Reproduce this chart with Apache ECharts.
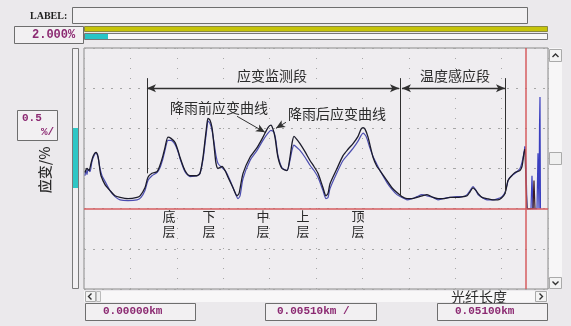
<!DOCTYPE html>
<html>
<head>
<meta charset="utf-8">
<script src="https://cdn.jsdelivr.net/npm/echarts@6/dist/echarts.min.js"></script>
<style>
  html, body { margin: 0; padding: 0; background: #ebe9ec; }
  #chart { width: 571px; height: 326px; }
</style>
</head>
<body>
<div id="chart"></div>
<script>
// Fibre distance in metres (0 – 51 m shown), strain in %.
// Strain after rainfall [distance, strain]
const afterRain = [
  [0.11,0.45],[0.33,0.50],[0.55,0.475],[0.77,0.5625],[0.99,0.65],[1.32,0.70],[1.54,0.65],[1.76,0.475],
  [1.87,0.41],[2.31,0.30],[2.86,0.225],[3.41,0.16],[3.96,0.14],[4.84,0.125],[5.83,0.14],[6.16,0.16],
  [6.70,0.26],[7.03,0.39],[7.47,0.44],[8.02,0.46],[8.35,0.54],[8.68,0.66],[8.90,0.76],[9.23,0.89],
  [9.56,0.875],[10.00,0.825],[10.33,0.725],[10.55,0.64],[11.10,0.475],[11.65,0.41],[12.42,0.41],[12.75,0.44],
  [13.08,0.64],[13.30,0.85],[13.52,1.06],[13.63,1.125],[13.85,1.10],[14.07,1.01],[14.29,0.79],[14.51,0.5625],
  [14.73,0.50],[15.17,0.525],[15.50,0.475],[15.83,0.39],[16.38,0.26],[16.82,0.16],[17.04,0.19],[17.48,0.44],
  [18.25,0.64],[19.02,0.76],[19.67,0.89],[20.22,1.01],[20.55,1.04],[20.77,0.99],[20.99,0.89],[21.32,0.64],
  [21.76,0.50],[22.31,0.475],[22.64,0.64],[22.86,0.81],[23.08,0.90],[23.41,0.86],[23.74,0.81],[24.29,0.71],
  [24.84,0.60],[25.28,0.525],[25.72,0.44],[26.27,0.26],[26.60,0.16],[26.82,0.19],[27.04,0.31],[27.81,0.50],
  [28.47,0.66],[29.02,0.74],[29.57,0.81],[30.12,0.90],[30.45,0.99],[30.67,1.01],[30.89,0.99],[31.22,0.89],
  [31.77,0.64],[32.20,0.525],[32.53,0.475],[33.30,0.35],[33.85,0.26],[34.40,0.20],[34.95,0.15],[35.50,0.125],
  [36.05,0.125],[36.60,0.14],[37.15,0.16],[37.70,0.175],[38.36,0.14],[38.91,0.125],[39.46,0.125],[40.23,0.14],
  [41.00,0.14],[41.66,0.15],[42.10,0.16],[42.43,0.21],[42.76,0.26],[43.09,0.225],[43.31,0.19],[43.75,0.14],
  [44.29,0.125],[44.95,0.11],[45.50,0.11],[45.94,0.14],[46.27,0.19],[46.49,0.29],[46.60,0.35],[46.93,0.40],
  [47.37,0.45],[47.92,0.475],[48.14,0.525],[48.25,0.60],[48.36,0.69],[48.47,0.74]
];
// Fibre end reflections, after rainfall
const afterRainTail = [
  [48.47,0.74],[48.58,0.31],[48.69,0],[49.35,0],[49.46,0.35],[49.57,0]
];

// Strain before rainfall [distance, strain]
const beforeRain = [
  [0.11,0.41],[0.22,0.475],[0.33,0.425],[0.44,0.49],[0.66,0.46],[0.88,0.59],[1.10,0.66],[1.32,0.69],
  [1.54,0.64],[1.76,0.50],[1.98,0.41],[2.31,0.34],[2.86,0.225],[3.41,0.15],[3.96,0.11],[4.84,0.10],
  [5.83,0.11],[6.27,0.14],[6.70,0.225],[7.03,0.35],[7.47,0.41],[8.02,0.45],[8.35,0.51],[8.68,0.625],
  [8.90,0.725],[9.23,0.85],[9.56,0.85],[10.00,0.80],[10.33,0.71],[10.55,0.625],[11.10,0.46],[11.65,0.40],
  [12.42,0.41],[12.75,0.44],[13.08,0.61],[13.30,0.81],[13.52,1.01],[13.63,1.09],[13.85,1.06],[14.07,0.975],
  [14.29,0.825],[14.51,0.66],[14.73,0.5625],[15.17,0.51],[15.61,0.46],[16.06,0.35],[16.60,0.20],[16.93,0.125],
  [17.15,0.16],[17.48,0.375],[18.25,0.60],[19.02,0.725],[19.67,0.85],[20.22,0.94],[20.55,0.975],[20.88,0.95],
  [21.10,0.84],[21.32,0.66],[21.76,0.51],[22.31,0.475],[22.64,0.60],[22.86,0.725],[23.08,0.79],[23.41,0.76],
  [23.74,0.725],[24.29,0.64],[24.84,0.54],[25.28,0.475],[25.72,0.39],[26.27,0.225],[26.60,0.125],[26.82,0.14],
  [27.04,0.25],[27.81,0.45],[28.47,0.60],[29.02,0.675],[29.57,0.75],[30.12,0.84],[30.45,0.91],[30.67,0.94],
  [31.00,0.90],[31.44,0.75],[31.77,0.65],[32.20,0.55],[32.53,0.475],[33.30,0.325],[33.85,0.24],[34.40,0.175],
  [34.95,0.14],[35.50,0.11],[36.05,0.125],[36.60,0.15],[37.15,0.175],[37.70,0.16],[38.36,0.14],[38.91,0.11],
  [39.46,0.125],[40.23,0.14],[41.00,0.15],[41.66,0.15],[42.10,0.175],[42.43,0.225],[42.76,0.275],[43.09,0.225],
  [43.31,0.175],[43.75,0.14],[44.29,0.11],[44.95,0.11],[45.50,0.125],[45.94,0.15],[46.27,0.20],[46.49,0.30],
  [46.71,0.375],[47.04,0.41],[47.48,0.45],[47.92,0.50],[48.14,0.575],[48.36,0.70],[48.47,0.775]
];
// Fibre end reflections, before rainfall
const beforeRainTail = [
  [48.47,0.775],[48.58,0.54],[48.69,0],[49.13,0],[49.24,0.41],[49.35,0],[49.79,0],[49.90,0.69],
  [50.01,0],[50.07,1.04],[50.12,1.39],[50.17,0]
];

// Axis ranges
const distRange = [0, 51];       // metres
const strainRange = [-1, 2];     // %
const strainStep = 0.5;          // % per division
const distStep = 5.1;            // metres per division

// Section boundaries and reference lines (metres / %)
const sectionEdges = [6.92, 34.8, 46.3];
const sectionEdgeBottoms = [0.44, 0.16, 0.19];
const sectionTop = 1.625;
const spanLevel = 1.5;
const strainSpan = [6.92, 34.62];
const tempSpan = [34.95, 46.27];
const fibreEnd = 48.6;
const beforePointer = [[16.82, 1.15], [19.89, 0.95]];
const afterPointer = [[22.20, 1.075], [21.10, 1.0]];

// Text
const sectionNames = ['应变监测段', '温度感应段'];
const curveNames = ['降雨前应变曲线', '降雨后应变曲线'];
const layerNames = ['底\n层', '下\n层', '中\n层', '上\n层', '顶\n层'];
const readouts = ['0.00000km', '0.00510km /', '0.05100km'];

const CJK = '"Noto Sans CJK SC", "Noto Sans", sans-serif';
const MONO = '"Liberation Mono", "DejaVu Sans Mono", monospace';
const MAGENTA = '#8c2a72';
const ink = '#2b2b2b';

const chart = echarts.init(document.getElementById('chart'), null, { renderer: 'canvas' });

function arrowLine(a, b, startSym, endSym, width) {
  return [
    { coord: a, symbol: startSym, symbolSize: [6, 9], lineStyle: { width: width || 1 } },
    { coord: b, symbol: endSym, symbolSize: [6, 9] }
  ];
}

const annotationLines = [];
sectionEdges.forEach((x, i) => {
  annotationLines.push(arrowLine([x, sectionEdgeBottoms[i]], [x, sectionTop], 'none', 'none'));
});
annotationLines.push(arrowLine([strainSpan[0], spanLevel], [strainSpan[1], spanLevel], 'arrow', 'arrow', 1.4));
annotationLines.push(arrowLine([tempSpan[0], spanLevel], [tempSpan[1], spanLevel], 'arrow', 'arrow', 1.4));
annotationLines.push(arrowLine(beforePointer[0], beforePointer[1], 'none', 'arrow'));
annotationLines.push(arrowLine(afterPointer[0], afterPointer[1], 'none', 'arrow'));

function box(x, y, w, h, fill, stroke) {
  return { type: 'rect', shape: { x: x, y: y, width: w, height: h },
           style: { fill: fill, stroke: stroke || '#6e6e6e', lineWidth: 1 }, silent: true };
}
function label(text, x, y, font, fill, align) {
  return { type: 'text', x: x, y: y, silent: true,
           style: { text: text, font: font, fill: fill, textAlign: align || 'left', textVerticalAlign: 'middle' } };
}
function chevron(points) {
  return { type: 'polyline', shape: { points: points }, silent: true,
           style: { stroke: '#333', lineWidth: 1.4, fill: null } };
}

const layerX = [169, 209, 263, 303, 358];

const graphics = [
  // header fields
  label('LABEL:', 30, 16, 'bold 10px "Liberation Serif", serif', '#1e1e1e'),
  box(72.5, 7.5, 455, 16, '#f2f0f2'),
  box(14.5, 26.5, 69, 17, '#f2f0f2'),
  label('2.000%', 32, 35, 'bold 12px ' + MONO, MAGENTA),
  box(84.5, 26.5, 463, 5, '#c6c40a', '#8a8a40'),
  box(84.5, 33.5, 463, 6, '#f7f7f7', '#777'),
  { type: 'rect', shape: { x: 85, y: 34, width: 23, height: 5 }, style: { fill: '#27c5c6' }, silent: true },

  // scale readout and vertical level bar
  box(17.5, 110.5, 40, 30, '#f2f0f2'),
  label('0.5', 22, 118, 'bold 11px ' + MONO, MAGENTA),
  label('%/', 41, 132, 'bold 11px ' + MONO, MAGENTA),
  { type: 'text', x: 45, y: 170, rotation: Math.PI / 2, silent: true,
    style: { text: '应变/%', font: '500 14px ' + CJK, fill: ink, textAlign: 'center', textVerticalAlign: 'middle' } },
  box(72.5, 48.5, 6, 240, '#f2f0f2', '#7a7a7a'),
  { type: 'rect', shape: { x: 73, y: 128, width: 5, height: 60 }, style: { fill: '#2ec7c5' }, silent: true },

  // vertical scrollbar
  { type: 'rect', shape: { x: 549, y: 48, width: 13, height: 241 }, style: { fill: '#f7f6f7' }, silent: true },
  box(549.5, 49.5, 12, 12, '#f3f3f3', '#aaa'),
  chevron([[552.5, 57], [555.5, 54], [558.5, 57]]),
  box(549.5, 152.5, 12, 12, '#f0f0f0', '#aaa'),
  box(549.5, 277.5, 12, 11, '#f3f3f3', '#aaa'),
  chevron([[552.5, 281.5], [555.5, 284.5], [558.5, 281.5]]),

  // horizontal scrollbar
  { type: 'rect', shape: { x: 84, y: 291, width: 464, height: 11 }, style: { fill: '#f8f7f8' }, silent: true },
  box(85.5, 291.5, 10, 10, '#f3f3f3', '#aaa'),
  chevron([[91.5, 293.5], [88.5, 296.5], [91.5, 299.5]]),
  box(96.5, 291.5, 4, 10, '#f0f0f0', '#bbb'),
  box(535.5, 291.5, 11, 10, '#f3f3f3', '#aaa'),
  chevron([[539.5, 293.5], [542.5, 296.5], [539.5, 299.5]]),
  label('光纤长度', 479, 297, '14px ' + CJK, ink, 'center'),

  // distance readouts
  box(85.5, 303.5, 110, 17, '#f2f0f2'),
  label(readouts[0], 103, 311, 'bold 11px ' + MONO, MAGENTA),
  box(265.5, 303.5, 111, 17, '#f2f0f2'),
  label(readouts[1], 277, 311, 'bold 11px ' + MONO, MAGENTA),
  box(437.5, 303.5, 110, 17, '#f2f0f2'),
  label(readouts[2], 455, 311, 'bold 11px ' + MONO, MAGENTA),

  // section and curve annotations
  label(sectionNames[0], 272, 76, '14px ' + CJK, ink, 'center'),
  label(sectionNames[1], 455, 76, '14px ' + CJK, ink, 'center'),
  label(curveNames[0], 219, 108, '14px ' + CJK, ink, 'center'),
  label(curveNames[1], 337, 114, '14px ' + CJK, ink, 'center')
];
layerNames.forEach((t, i) => {
  graphics.push({ type: 'text', x: layerX[i], y: 224, silent: true,
    style: { text: t, font: '13px ' + CJK, fill: ink, textAlign: 'center', textVerticalAlign: 'middle', lineHeight: 15 } });
});

const option = {
  animation: false,
  backgroundColor: '#ebe9ec',
  grid: {
    left: 84, top: 48, width: 464, height: 241,
    show: true, backgroundColor: '#efedf0', borderColor: '#8a8a8a', borderWidth: 1
  },
  xAxis: {
    type: 'value', min: distRange[0], max: distRange[1], interval: distStep,
    axisLine: { show: false }, axisTick: { show: false }, axisLabel: { show: false },
    splitLine: { show: true, lineStyle: { color: '#a6a6a6', width: 1, type: [1, 9] } }
  },
  yAxis: {
    type: 'value', min: strainRange[0], max: strainRange[1], interval: strainStep,
    axisLine: { show: false }, axisTick: { show: false }, axisLabel: { show: false },
    splitLine: { show: true, lineStyle: { color: '#a6a6a6', width: 1, type: [2, 7] } }
  },
  series: [
    {
      name: curveNames[0], type: 'line', data: beforeRain, showSymbol: false, smooth: 0.25,
      lineStyle: { color: '#4b4db0', width: 1.2 }, z: 3
    },
    {
      type: 'line', data: beforeRainTail, showSymbol: false,
      lineStyle: { color: '#3a3fc0', width: 1.2 }, z: 3
    },
    {
      name: curveNames[1], type: 'line', data: afterRain, showSymbol: false, smooth: 0.25,
      lineStyle: { color: '#1b1b2b', width: 1.3 }, z: 4
    },
    {
      type: 'line', data: afterRainTail, showSymbol: false,
      lineStyle: { color: '#3a1a22', width: 1.2 }, z: 4
    },
    {
      // reference lines: zero strain and fibre end
      type: 'line', data: [], z: 2,
      markLine: {
        silent: true, symbol: 'none', label: { show: false },
        lineStyle: { color: '#d65c60', width: 1.5, type: 'solid' },
        data: [{ yAxis: 0 }, { xAxis: fibreEnd }]
      }
    },
    {
      // section boundaries and pointers
      type: 'line', data: [], z: 5,
      markLine: {
        silent: true, label: { show: false },
        lineStyle: { color: '#303030', width: 1, type: 'solid' },
        data: annotationLines
      }
    }
  ],
  graphic: graphics
};

chart.setOption(option);
</script>
</body>
</html>
